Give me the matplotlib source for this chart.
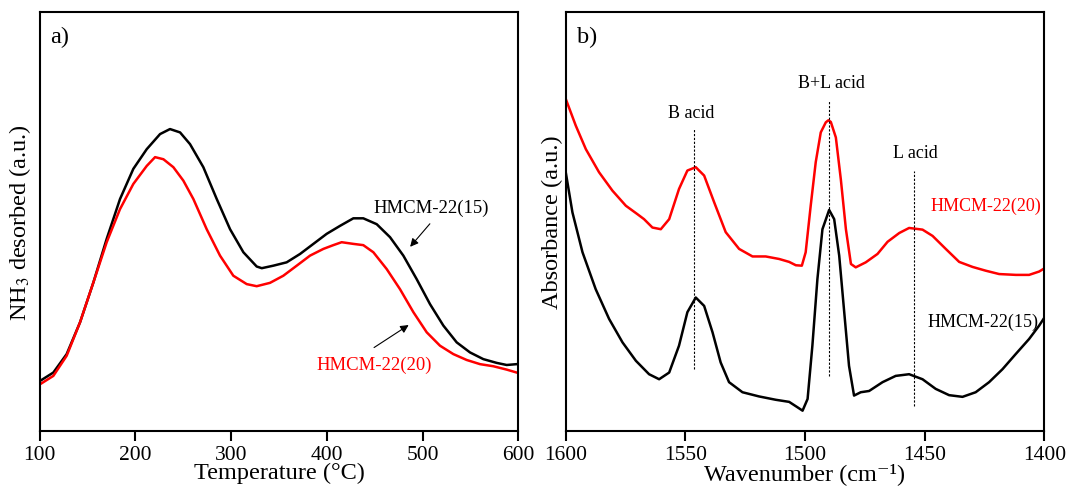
import matplotlib

matplotlib.use("Agg")
import matplotlib.pyplot as plt

# panel a) NH3-TPD curves (arbitrary units, 0-100 of axis height)
temp_15 = [100.5, 114.4, 128.3, 142.3, 156.2, 170.1, 184, 197.9, 211.9, 225.8, 236.2, 246.7, 257.1,
           271, 285, 298.9, 312.8, 326.7, 332, 344.1, 358, 372, 385.9, 399.8, 413.7, 427.6, 438,
           452, 465.9, 479.8, 493.7, 507.7, 521.6, 535.5, 549.4, 563.3, 577.3, 587.7, 598.1]
nh3_15 = [11.9, 13.9, 18.3, 25.9, 35.4, 45.8, 55.3, 62.5, 67.2, 70.8, 72.0, 71.2, 68.4,
          62.9, 55.3, 48.1, 42.6, 39.2, 38.8, 39.4, 40.2, 42.2, 44.6, 47.0, 48.9, 50.7, 50.7,
          49.3, 46.2, 41.8, 36.2, 30.2, 25.1, 21.1, 18.7, 17.1, 16.2, 15.7, 15.9]
temp_20 = [100.5, 114.4, 128.3, 142.3, 156.2, 170.1, 184, 197.9, 211.9, 220.6, 229.3, 239.7, 250.1,
           260.6, 274.5, 288.4, 302.3, 316.3, 326.7, 340.6, 354.5, 368.5, 382.4, 396.3, 406.7,
           415.4, 427.6, 438, 448.5, 462.4, 476.3, 490.3, 504.2, 518.1, 532, 545.9, 559.9, 573.8,
           587.7, 598.1]
nh3_20 = [11.1, 13.1, 17.9, 25.9, 35.4, 45.0, 52.9, 58.9, 63.2, 65.3, 64.8, 62.9, 59.7,
          55.3, 48.1, 41.8, 37.0, 35.0, 34.5, 35.3, 37.0, 39.4, 41.8, 43.4, 44.3,
          45.0, 44.6, 44.3, 42.6, 38.6, 33.8, 28.3, 23.5, 20.3, 18.3, 16.9, 15.9, 15.4,
          14.6, 13.9]

# panel b) pyridine FT-IR spectra
wn_15 = [1599.9, 1597.1, 1592.9, 1587.4, 1581.8, 1576.2, 1570.6, 1565.1, 1560.9, 1556.7, 1552.6,
         1549.1, 1545.6, 1542.1, 1538.6, 1535.2, 1531.7, 1526.1, 1519.2, 1512.2, 1506.6, 1503.1,
         1501.0, 1498.9, 1496.9, 1494.8, 1492.7, 1489.9, 1487.8, 1485.7, 1483.6, 1481.6, 1479.5,
         1476.7, 1473.2, 1467.6, 1462.1, 1456.5, 1450.9, 1445.4, 1439.8, 1434.2, 1428.7, 1423.1,
         1417.5, 1412.0, 1406.4, 1402.2, 1399.9]
abs_15 = [61.7, 52.1, 42.6, 33.8, 26.7, 21.1, 16.7, 13.5, 12.3, 13.9, 20.3,
          28.3, 31.8, 29.8, 23.5, 16.3, 11.6, 9.2, 8.2, 7.4, 6.9, 5.6,
          4.8, 7.6, 20.3, 36.2, 48.1, 52.7, 50.5, 41.8, 28.3, 15.5, 8.4,
          9.2, 9.5, 11.6, 13.1, 13.5, 12.3, 10.0, 8.5, 8.1, 9.2, 11.6,
          14.7, 18.3, 21.9, 25.1, 27.1]
wn_20 = [1599.9, 1595.7, 1591.5, 1586.0, 1580.4, 1574.8, 1570.0, 1567.2, 1563.7, 1560.2, 1556.7,
         1552.6, 1549.1, 1545.6, 1542.1, 1537.9, 1533.1, 1527.5, 1521.9, 1516.4, 1510.8, 1506.6,
         1503.8, 1501.3, 1499.7, 1497.6, 1495.5, 1493.4, 1491.3, 1490.2, 1489.2, 1487.1, 1485.0,
         1482.9, 1480.8, 1478.8, 1474.6, 1469.7, 1465.5, 1460.6, 1456.5, 1450.9, 1446.7, 1441.2,
         1435.6, 1430.0, 1424.5, 1418.9, 1411.9, 1406.4, 1402.2, 1399.9]
abs_20 = [79.2, 72.8, 67.2, 61.7, 57.3, 53.7, 51.7, 50.5, 48.5, 48.1, 50.5,
          57.7, 62.1, 62.9, 60.9, 54.5, 47.4, 43.4, 41.6, 41.6, 41.0, 40.3,
          39.5, 39.4, 42.6, 53.7, 64.1, 71.2, 73.6, 74.1, 73.7, 70.0, 59.9,
          48.1, 39.8, 39.0, 40.2, 42.2, 45.1, 47.2, 48.4, 48.0, 46.5, 43.4,
          40.3, 39.1, 38.2, 37.4, 37.2, 37.2, 38.0, 38.8]

acid_labels = ["B acid", "B+L acid", "L acid"]
acid_pos = [1546.3, 1489.9, 1454.4]
acid_lo = [14.7, 13.1, 5.9]
acid_hi = [72.0, 78.7, 62.1]
acid_text_pos = [1547.7, 1489.0, 1453.7]
acid_text_y = [76.0, 83.1, 66.3]

plt.rcParams["font.family"] = ["Liberation Serif", "DejaVu Serif"]
plt.rcParams["mathtext.fontset"] = "stix"

fig = plt.figure(figsize=(10.69, 4.89), dpi=100)
ax1 = fig.add_axes([0.037, 0.117, 0.448, 0.857])
ax2 = fig.add_axes([0.529, 0.117, 0.448, 0.857])

for ax in (ax1, ax2):
    for sp in ax.spines.values():
        sp.set_linewidth(1.5)
    ax.set_yticks([])
    ax.set_ylim(0, 100)
    ax.tick_params(axis="x", direction="out", length=7, width=1.5, labelsize=15.5, pad=3)

arrow_kw = dict(arrowstyle="-|>", color="black", lw=0.8, mutation_scale=12)

# a)
ax1.plot(temp_15, nh3_15, color="black", lw=1.8)
ax1.plot(temp_20, nh3_20, color="#ff0000", lw=1.8)
ax1.set_xlim(100, 600)
ax1.set_xticks([100, 200, 300, 400, 500, 600])
ax1.set_xlabel("Temperature (°C)", fontsize=17.5, labelpad=-1)
ax1.set_ylabel(r"NH$_3$ desorbed (a.u.)", fontsize=17.5)
ax1.yaxis.set_label_coords(-0.014, 0.5)
ax1.text(0.022, 0.94, "a)", transform=ax1.transAxes, fontsize=17.5, va="center")
ax1.annotate("", xy=(485, 43.4), xytext=(509.4, 49.9), arrowprops=arrow_kw)
ax1.text(448.5, 53.2, "HMCM-22(15)", fontsize=13.5, va="center", ha="left")
ax1.annotate("", xy=(487.8, 25.6), xytext=(446.8, 19.5), arrowprops=arrow_kw)
ax1.text(389.3, 15.9, "HMCM-22(20)", fontsize=13.5, va="center", ha="left", color="#ff0000")

# b)
ax2.plot(wn_20, abs_20, color="#ff0000", lw=1.8)
ax2.plot(wn_15, abs_15, color="black", lw=1.8)
ax2.set_xlim(1600, 1400)
ax2.set_xticks([1600, 1550, 1500, 1450, 1400])
ax2.set_xlabel("Wavenumber (cm\u207b\u00b9)", fontsize=17.5, labelpad=-1)
ax2.set_ylabel("Absorbance (a.u.)", fontsize=17.5)
ax2.yaxis.set_label_coords(-0.006, 0.5)
ax2.text(0.024, 0.94, "b)", transform=ax2.transAxes, fontsize=17.5, va="center")
for lab, x, lo, hi, tx, ty in zip(acid_labels, acid_pos, acid_lo, acid_hi, acid_text_pos, acid_text_y):
    ax2.vlines(x, lo, hi, colors="black", linestyles=(0, (2, 1.5)), lw=0.8)
    ax2.text(tx, ty, lab, fontsize=13, ha="center", va="center")
ax2.text(1401.2, 53.9, "HMCM-22(20)", fontsize=13, ha="right", va="center", color="#ff0000")
ax2.text(1402.3, 26.0, "HMCM-22(15)", fontsize=13, ha="right", va="center")

fig.savefig("out.png", dpi=100)
